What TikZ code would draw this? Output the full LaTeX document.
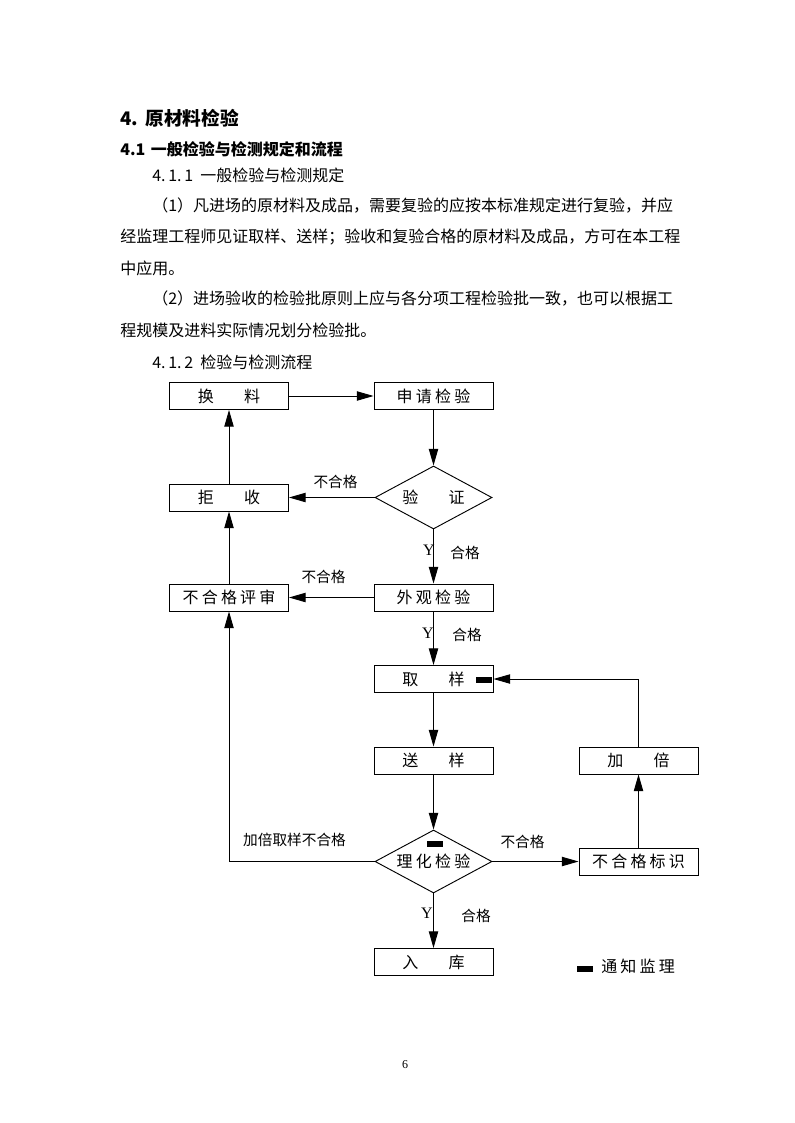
\documentclass[tikz,border=0pt]{standalone}
\usepackage{fontspec}
\setmainfont{Noto Sans CJK SC}
\newfontfamily\boxfont[LetterSpace=20]{Noto Sans CJK SC}
\newfontfamily\latinserif{Liberation Serif}
\usetikzlibrary{arrows.meta,shapes.geometric}
\pgfdeclarelayer{nodelayer}
\pgfdeclarelayer{edgelayer}
\pgfsetlayers{edgelayer,nodelayer,main}
\tikzstyle{box}=[fill=white, draw=black, shape=rectangle, line width=0.7pt, inner sep=0pt, minimum width=89.25pt, minimum height=20.25pt, font=\boxfont\fontsize{12pt}{14pt}\selectfont]
\tikzstyle{decision}=[fill=white, draw=black, shape=diamond, aspect=1.86, line width=0.7pt, inner sep=0pt, minimum width=87.75pt, minimum height=47.25pt, font=\boxfont\fontsize{12pt}{14pt}\selectfont]
\tikzstyle{notice}=[fill=black, shape=rectangle, inner sep=0pt, minimum width=12pt, minimum height=4.5pt]
\tikzstyle{flowtext}=[inner sep=0pt, font=\fontsize{11pt}{13pt}\selectfont]
\tikzstyle{ytext}=[inner sep=0pt, font=\latinserif\fontsize{12pt}{14pt}\selectfont]
\tikzstyle{textline}=[anchor=west, inner sep=0pt, font=\fontsize{12pt}{14pt}\selectfont]
\tikzstyle{directed edge}=[line width=0.7pt, -{Triangle[length=12.5pt, width=7pt]}]

\begin{document}
\begin{tikzpicture}[x=0.75pt, y=-0.75pt]
	\useasboundingbox (0,0) rectangle (794,1123);
	\begin{pgfonlayer}{nodelayer}
		% page text
		\node [style=textline] (20) at (120, 118) {\bfseries\fontsize{14pt}{16pt}\selectfont\makebox[19pt][l]{4.}原材料检验};
		\node [style=textline] (21) at (120, 149) {\bfseries\makebox[23pt][l]{4.1}一般检验与检测规定和流程};
		\node [style=textline] (22) at (152, 175) {\makebox[36pt][l]{4.\,1.\,1}一般检验与检测规定};
		\node [style=textline] (23) at (152, 206) {（1）凡进场的原材料及成品，需要复验的应按本标准规定进行复验，并应};
		\node [style=textline] (24) at (120, 237) {经监理工程师见证取样、送样；验收和复验合格的原材料及成品，方可在本工程};
		\node [style=textline] (25) at (120, 268) {中应用。};
		\node [style=textline] (26) at (152, 299) {（2）进场验收的检验批原则上应与各分项工程检验批一致，也可以根据工};
		\node [style=textline] (27) at (120, 330) {程规模及进料实际情况划分检验批。};
		\node [style=textline] (28) at (152, 362) {\makebox[36pt][l]{4.\,1.\,2}检验与检测流程};
		\node [inner sep=0pt, font=\latinserif\fontsize{9pt}{11pt}\selectfont] (29) at (405, 1065) {6};
		% flow chart
		\node [style=box] (0) at (229, 396) {换\hspace{1.9em}料};
		\node [style=box] (1) at (433.5, 396) {申请检验};
		\node [style=decision] (2) at (433.5, 497.5) {验\hspace{1.9em}证};
		\node [style=box] (3) at (229, 497.5) {拒\hspace{1.9em}收};
		\node [style=box] (4) at (433.5, 597.5) {外观检验};
		\node [style=box] (5) at (229, 597.5) {不合格评审};
		\node [style=box] (6) at (433.5, 679) {取\hspace{1.9em}样};
		\node [style=box] (7) at (433.5, 760.5) {送\hspace{1.9em}样};
		\node [style=decision] (8) at (433.5, 861.5) {理化检验};
		\node [style=box] (9) at (638.5, 861.5) {不合格标识};
		\node [style=box] (10) at (638.5, 760.5) {加\hspace{1.9em}倍};
		\node [style=box] (11) at (433.5, 962) {入\hspace{1.9em}库};
		% labels
		\node [style=flowtext] (12) at (335.5, 482) {不合格};
		\node [style=ytext] (13) at (429, 550) {Y};
		\node [style=flowtext] (14) at (465, 553) {合格};
		\node [style=flowtext] (15) at (323.5, 577) {不合格};
		\node [style=ytext] (16) at (428, 633) {Y};
		\node [style=flowtext] (17) at (467, 635) {合格};
		\node [style=flowtext] (18) at (294.5, 840) {加倍取样不合格};
		\node [style=flowtext] (19) at (522.5, 842) {不合格};
		\node [style=ytext] (30) at (427, 913) {Y};
		\node [style=flowtext] (31) at (476, 916) {合格};
		% notify supervisor marks
		\node [style=notice] (32) at (484, 680) {};
		\node [style=notice] (33) at (434.5, 844) {};
		\node [style=notice] (34) at (585, 968.5) {};
		\node [style=textline, font=\boxfont\fontsize{12pt}{14pt}\selectfont] (35) at (601, 966) {通知监理};
	\end{pgfonlayer}
	\begin{pgfonlayer}{edgelayer}
		\fill [white] (0,0) rectangle (794,1123);
		\draw [style=directed edge] (0) to (1);
		\draw [style=directed edge] (1) to (2);
		\draw [style=directed edge] (2) to (3);
		\draw [style=directed edge] (3) to (0);
		\draw [style=directed edge] (2) to (4);
		\draw [style=directed edge] (4) to (5);
		\draw [style=directed edge] (5) to (3);
		\draw [style=directed edge] (4) to (6);
		\draw [style=directed edge] (6) to (7);
		\draw [style=directed edge] (7) to (8);
		\draw [style=directed edge] (8.west) -| (5.south);
		\draw [style=directed edge] (8) to (9);
		\draw [style=directed edge] (9) to (10);
		\draw [style=directed edge] (10.north) |- (6.east);
		\draw [style=directed edge] (8) to (11);
	\end{pgfonlayer}
\end{tikzpicture}
\end{document}
